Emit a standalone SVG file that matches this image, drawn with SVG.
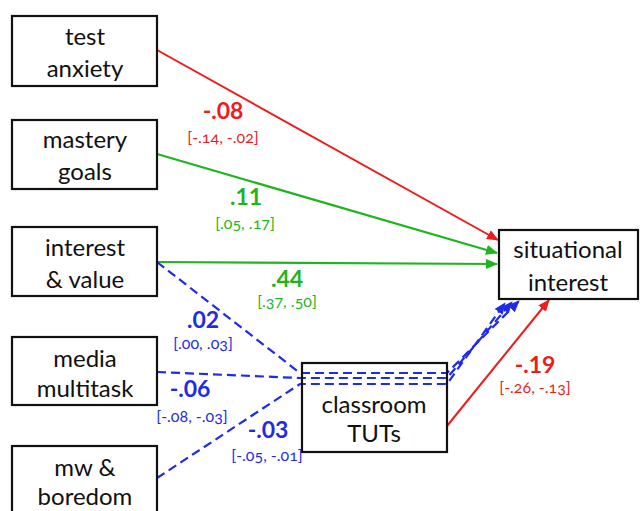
<svg xmlns="http://www.w3.org/2000/svg" width="640" height="511" viewBox="0 0 640 511">
<style>
.box{fill:#fff;stroke:#111;stroke-width:2.2}
.bt{font-family:Lato,"Open Sans","Liberation Sans",sans-serif;font-size:24px;fill:#111;text-anchor:middle}
.coef{font-family:Lato,"Open Sans","Liberation Sans",sans-serif;font-size:23px;font-weight:bold;text-anchor:middle}
.ci{font-family:Lato,"Open Sans","Liberation Sans",sans-serif;font-size:16px;text-anchor:middle;font-variant-numeric:oldstyle-nums}
.red{fill:#ee1c1c}.green{fill:#1fb51f}.blue{fill:#1f2be6}
.lr{stroke:#ee1c1c;stroke-width:2;fill:none}
.lg{stroke:#1fb51f;stroke-width:2.2;fill:none}
.lb{stroke:#1f2be6;stroke-width:2.2;fill:none;stroke-dasharray:9 5}
</style>
<defs>
<marker id="ar" viewBox="0 0 12 10" refX="11" refY="5" markerWidth="12" markerHeight="10" markerUnits="userSpaceOnUse" orient="auto"><path d="M0,0 L12,5 L0,10 Z" fill="#ee1c1c"/></marker>
<marker id="ag" viewBox="0 0 12 10" refX="11" refY="5" markerWidth="12" markerHeight="10" markerUnits="userSpaceOnUse" orient="auto"><path d="M0,0 L12,5 L0,10 Z" fill="#1fb51f"/></marker>
<marker id="ab" viewBox="0 0 12 10" refX="11" refY="5" markerWidth="12" markerHeight="10" markerUnits="userSpaceOnUse" orient="auto"><path d="M0,0 L12,5 L0,10 Z" fill="#1f2be6"/></marker>
</defs>
<rect width="640" height="511" fill="#fff"/>
<g id="connectors">
<path class="lr" d="M157,50 L498,240" marker-end="url(#ar)"/>
<path class="lg" d="M157,154 L497,253" marker-end="url(#ag)"/>
<path class="lg" d="M157,262 L497,264" marker-end="url(#ag)"/>
<path class="lr" d="M447,426 L549,300" marker-end="url(#ar)"/>
<path class="lb" d="M157,262 L300,373 L447,373 L519,301" marker-end="url(#ab)"/>
<path class="lb" d="M157,372 L300,378 L447,378 L512,302" marker-end="url(#ab)"/>
<path class="lb" d="M157,478 L300,384 L447,384 L505,303" marker-end="url(#ab)"/>
</g>
<g id="test-anxiety"><rect class="box" x="12" y="16" width="145" height="70"/><text class="bt" x="85" y="45">test</text><text class="bt" x="85" y="77">anxiety</text></g>
<g id="mastery-goals"><rect class="box" x="12" y="120" width="145" height="69"/><text class="bt" x="85" y="148">mastery</text><text class="bt" x="85" y="180">goals</text></g>
<g id="interest-value"><rect class="box" x="12" y="227" width="145" height="69"/><text class="bt" x="85" y="256">interest</text><text class="bt" x="85" y="288">&amp; value</text></g>
<g id="media-multitask"><rect class="box" x="12" y="337" width="145" height="68"/><text class="bt" x="85" y="367">media</text><text class="bt" x="85" y="397">multitask</text></g>
<g id="mw-boredom"><rect class="box" x="12" y="446" width="145" height="70"/><text class="bt" x="85" y="476">mw &amp;</text><text class="bt" x="85" y="505">boredom</text></g>
<g id="situational-interest"><rect class="box" x="499" y="230" width="139" height="69"/><text class="bt" x="568" y="258">situational</text><text class="bt" x="568" y="291">interest</text></g>
<g id="classroom-tuts"><rect class="box" x="302" y="363" width="145" height="89" style="fill:none"/><text class="bt" x="374" y="413">classroom</text><text class="bt" x="374" y="442">TUTs</text></g>
<g id="labels">
<text class="coef red" x="223" y="119">-.08</text><text class="ci red" x="223" y="143">[-.14, -.02]</text>
<text class="coef green" x="246" y="205">.11</text><text class="ci green" x="245" y="229">[.05, .17]</text>
<text class="coef green" x="287" y="287">.44</text><text class="ci green" x="287" y="307">[.37, .50]</text>
<text class="coef blue" x="203" y="328">.02</text><text class="ci blue" x="203" y="349">[.00, .03]</text>
<text class="coef blue" x="190" y="397">-.06</text><text class="ci blue" x="192" y="422">[-.08, -.03]</text>
<text class="coef blue" x="268" y="438">-.03</text><text class="ci blue" x="267" y="461">[-.05, -.01]</text>
<text class="coef red" x="535" y="373">-.19</text><text class="ci red" x="535" y="393">[-.26, -.13]</text>
</g>
</svg>
